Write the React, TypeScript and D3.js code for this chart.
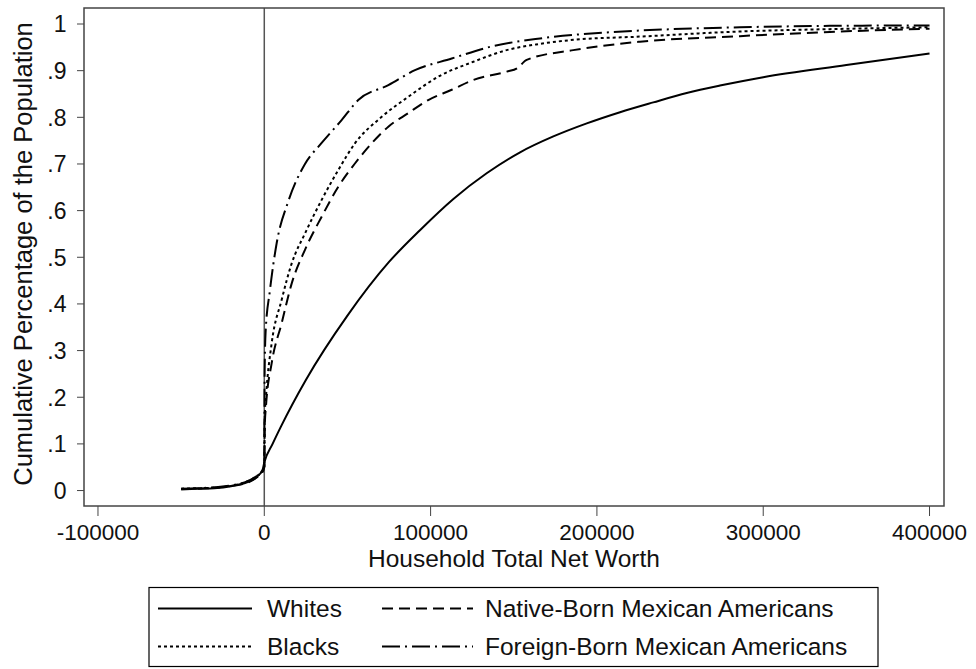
import React, { useEffect } from 'react';
import * as d3 from 'd3';

type Pt = [number, number];

// household net worth (x) vs cumulative share (y)
const whites: Pt[] = [
  [-50000, 0.003], [-40000, 0.004], [-30000, 0.005], [-20000, 0.009], [-10000, 0.018],
  [-5000, 0.028], [-1000, 0.045], [0, 0.06], [5000, 0.1], [10000, 0.137], [25000, 0.237],
  [50000, 0.375], [75000, 0.49], [93600, 0.558], [113700, 0.625], [133700, 0.68],
  [153800, 0.725], [173800, 0.759], [193900, 0.787], [213900, 0.811], [233900, 0.832],
  [254000, 0.852], [274000, 0.868], [300000, 0.886], [350000, 0.912], [400000, 0.937],
];

const blacks: Pt[] = [
  [-50000, 0.004], [-40000, 0.005], [-30000, 0.006], [-20000, 0.01], [-10000, 0.02],
  [-5000, 0.03], [-1000, 0.042], [0, 0.05], [300, 0.16], [1000, 0.2], [4450, 0.316],
  [10460, 0.409], [16500, 0.487], [24470, 0.551], [34500, 0.623], [44500, 0.687],
  [54500, 0.744], [70600, 0.801], [86600, 0.844], [105600, 0.889], [125700, 0.919],
  [145700, 0.944], [165000, 0.957], [185800, 0.966], [225900, 0.973], [286000, 0.984],
  [340000, 0.989], [400000, 0.993],
];

const nativeBorn: Pt[] = [
  [-50000, 0.003], [-40000, 0.004], [-30000, 0.006], [-20000, 0.01], [-10000, 0.017],
  [-5000, 0.027], [-1000, 0.04], [0, 0.05], [300, 0.14], [1000, 0.18], [4450, 0.273],
  [10460, 0.359], [16500, 0.444], [24470, 0.516], [34500, 0.587], [44500, 0.651],
  [54500, 0.701], [64500, 0.744], [74600, 0.78], [86600, 0.809], [98600, 0.837],
  [112700, 0.859], [125700, 0.88], [145800, 0.898], [152000, 0.905], [157800, 0.923],
  [185800, 0.944], [225900, 0.962], [286000, 0.974], [340000, 0.983], [400000, 0.99],
];

const foreignBorn: Pt[] = [
  [-50000, 0.004], [-40000, 0.005], [-30000, 0.007], [-20000, 0.011], [-10000, 0.02],
  [-5000, 0.03], [-1000, 0.043], [0, 0.05], [200, 0.25], [800, 0.34], [3430, 0.43],
  [7440, 0.53], [14450, 0.62], [24470, 0.7], [34500, 0.745], [46500, 0.794],
  [56500, 0.837], [74600, 0.869], [90600, 0.901], [112700, 0.926], [135700, 0.951],
  [165800, 0.969], [205900, 0.982], [246000, 0.989], [286000, 0.993], [340000, 0.996],
  [400000, 0.997],
];

const xTicks = [-100000, 0, 100000, 200000, 300000, 400000];
const yTicks = [0, 0.1, 0.2, 0.3, 0.4, 0.5, 0.6, 0.7, 0.8, 0.9, 1];
const yTickLabels = ['0', '.1', '.2', '.3', '.4', '.5', '.6', '.7', '.8', '.9', '1'];

const seriesNames = ['Whites', 'Blacks', 'Native-Born Mexican Americans', 'Foreign-Born Mexican Americans'];
const seriesData = [whites, blacks, nativeBorn, foreignBorn];
const seriesDash = ['none', '3,3', '11,6', '18,5,2,5'];

const W = 976;
const H = 669;
const frame = { left: 84, top: 8, right: 944, bottom: 506 };
const font = '"Liberation Sans", Arial, sans-serif';

export default function App() {
  useEffect(() => {
    document.body.style.margin = '0';
  }, []);

  const x = d3.scaleLinear().domain([-108400, 408700]).range([frame.left, frame.right]);
  const y = d3.scaleLinear().domain([-0.0331, 1.0343]).range([frame.bottom, frame.top]);

  const line = d3.line<Pt>()
    .x(d => x(d[0]))
    .y(d => y(d[1]))
    .curve(d3.curveMonotoneX);

  // legend layout: two columns, two rows
  const legendBox = { x: 149, y: 587.5, w: 729, h: 79 };
  const legendCells = [
    { col: 0, row: 0 }, { col: 0, row: 1 }, { col: 1, row: 0 }, { col: 1, row: 1 },
  ];
  const colX = [{ x1: 158, x2: 252, tx: 267 }, { x1: 382, x2: 473, tx: 485 }];
  const rowY = [608.5, 646.5];

  return (
    <svg width={W} height={H} style={{ display: 'block', background: '#fff' }} fontFamily={font}>
      {/* y axis ticks */}
      {yTicks.map((t, i) => (
        <g key={'y' + i}>
          <line x1={frame.left - 7} x2={frame.left} y1={y(t)} y2={y(t)} stroke="#444" strokeWidth={1} />
          <text x={66.5} y={y(t)} dy="0.36em" textAnchor="end" fontSize={23} fill="#111">
            {yTickLabels[i]}
          </text>
        </g>
      ))}
      {/* x axis ticks */}
      {xTicks.map((t, i) => (
        <g key={'x' + i}>
          <line x1={x(t)} x2={x(t)} y1={frame.bottom} y2={frame.bottom + 10} stroke="#444" strokeWidth={1} />
          <text x={x(t)} y={540} textAnchor="middle" fontSize={22.5} fill="#111">
            {String(t)}
          </text>
        </g>
      ))}

      {/* reference line at zero */}
      <line x1={x(0)} x2={x(0)} y1={frame.top} y2={frame.bottom} stroke="#555" strokeWidth={1.5} />

      {seriesData.map((s, i) => (
        <path key={'s' + i} d={line(s) || ''} fill="none" stroke="#000" strokeWidth={2}
          strokeDasharray={seriesDash[i]} />
      ))}

      <rect x={frame.left} y={frame.top} width={frame.right - frame.left} height={frame.bottom - frame.top}
        fill="none" stroke="#444" strokeWidth={1.5} />

      <text x={(frame.left + frame.right) / 2} y={567} textAnchor="middle" fontSize={24.5} fill="#111">
        Household Total Net Worth
      </text>
      <text transform={`translate(31.5,254) rotate(-90)`} textAnchor="middle"
        fontSize={25.5} fill="#111">
        Cumulative Percentage of the Population
      </text>

      {/* legend */}
      <rect x={legendBox.x} y={legendBox.y} width={legendBox.w} height={legendBox.h} fill="#fff"
        stroke="#000" strokeWidth={1.2} />
      {seriesNames.map((name, i) => {
        const c = colX[legendCells[i].col];
        const ry = rowY[legendCells[i].row];
        return (
          <g key={'l' + i}>
            <line x1={c.x1} x2={c.x2} y1={ry} y2={ry} stroke="#000" strokeWidth={2}
              strokeDasharray={seriesDash[i]} />
            <text x={c.tx} y={ry} dy="0.36em" fontSize={24.5} fill="#111">{name}</text>
          </g>
        );
      })}
    </svg>
  );
}
